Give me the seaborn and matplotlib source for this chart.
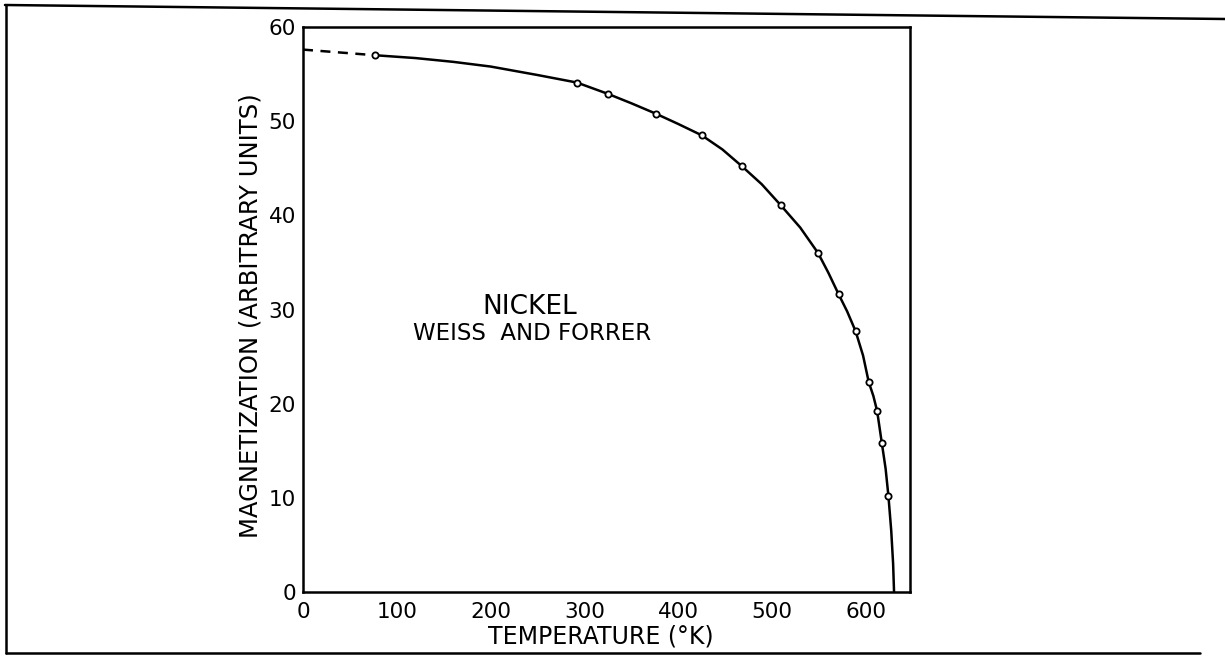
import matplotlib
matplotlib.use("Agg")
import matplotlib.pyplot as plt
from matplotlib.lines import Line2D
import seaborn as sns
import pandas as pd

# measured points (Weiss and Forrer, nickel)
temp_pts = [77, 292, 325, 376, 425, 468, 509, 549, 571, 589, 603, 612, 617, 624]
mag_pts = [57.0, 54.1, 52.9, 50.8, 48.5, 45.2, 41.1, 36.0, 31.6, 27.7, 22.3, 19.2, 15.8, 10.2]

# drawn smooth curve
curve_T = [77, 120, 160, 200, 250, 292, 325, 350, 376, 400, 425, 447, 468, 489, 509, 530, 549,
           560, 571, 580, 589, 597, 603, 608, 612, 617, 621, 624, 627, 629, 630]
curve_M = [57.0, 56.7, 56.3, 55.8, 54.9, 54.1, 52.9, 51.9, 50.8, 49.7, 48.5, 47.0, 45.2, 43.3, 41.1,
           38.7, 36.0, 33.9, 31.6, 29.8, 27.7, 25.1, 22.3, 20.8, 19.2, 15.8, 13.1, 10.2, 6.5, 3.0, 0.0]

# dashed extrapolation to 0 K
extrap_T = [0, 77]
extrap_M = [57.6, 57.0]

x_ticks = [0, 100, 200, 300, 400, 500, 600]
y_ticks = [0, 10, 20, 30, 40, 50, 60]
x_tick_labels = ["0", "100", "200", "300", "400", "500", "600"]
y_tick_labels = ["0", "10", "20", "30", "40", "50", "60"]

sns.set_style("white")
plt.rcParams['font.family'] = ['DejaVu Sans']

fig = plt.figure(figsize=(12.25, 6.59), dpi=100)
ax = fig.add_axes([303/1225, 67/659, 607/1225, 565/659])

curve_df = pd.DataFrame({"T": curve_T, "M": curve_M})
pts_df = pd.DataFrame({"T": temp_pts, "M": mag_pts})
ext_df = pd.DataFrame({"T": extrap_T, "M": extrap_M})

sns.lineplot(data=curve_df, x="T", y="M", ax=ax, color="black", lw=1.8, sort=False, estimator=None)
sns.lineplot(data=ext_df, x="T", y="M", ax=ax, color="black", lw=1.8, sort=False, estimator=None,
             dashes=False, linestyle=(0, (4, 3)))
ax.plot(pts_df["T"], pts_df["M"], linestyle="none", marker="o", markersize=4.5,
        markerfacecolor="white", markeredgecolor="black", markeredgewidth=1.3, zorder=5)

ax.set_xlim(0, 647)
ax.set_ylim(0, 60)
ax.set_xticks(x_ticks)
ax.set_xticklabels(x_tick_labels)
ax.set_yticks(y_ticks)
ax.set_yticklabels(y_tick_labels)
ax.tick_params(axis="x", direction="in", length=14, width=1.5, labelsize=15.5, pad=7, color="black")
ax.tick_params(axis="y", direction="in", length=11, width=1.5, labelsize=15.5, pad=5, color="black")
for lab in ax.get_xticklabels() + ax.get_yticklabels():
    lab.set_color("black")

for s in ax.spines.values():
    s.set_visible(True)
    s.set_color("black")
    s.set_linewidth(1.8)

ax.set_xlabel("TEMPERATURE (°K)", fontsize=17, color="black")
ax.set_ylabel("MAGNETIZATION (ARBITRARY UNITS)", fontsize=17.5, color="black")
ax.xaxis.set_label_coords(0.49, -0.058)
ax.yaxis.set_label_coords(-0.066, 0.49)

ax.text(242, 30.3, "NICKEL", fontsize=19, ha="center", va="center", color="black")
ax.text(244, 27.4, "WEISS  AND FORRER", fontsize=16.5, ha="center", va="center", color="black")

# scanned page border
fig.add_artist(Line2D([5/1225, 1.0], [1 - 5/659, 1 - 19/659], transform=fig.transFigure, color="black", lw=1.8))
fig.add_artist(Line2D([6/1225, 6/1225], [1 - 5/659, 1 - 653/659], transform=fig.transFigure, color="black", lw=1.8))
fig.add_artist(Line2D([6/1225, 1200/1225], [1 - 653/659, 1 - 653/659], transform=fig.transFigure, color="black", lw=1.8))

fig.savefig("out.png", dpi=100, facecolor="white")
